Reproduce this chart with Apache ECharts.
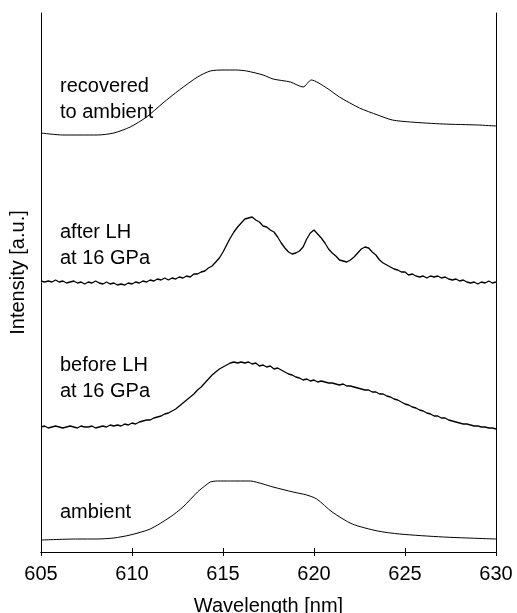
<!DOCTYPE html>
<html>
<head>
<meta charset="utf-8">
<script src="https://cdn.jsdelivr.net/npm/echarts@6/dist/echarts.min.js"></script>
<style>
  html, body { margin: 0; padding: 0; background: #fff; }
  #chart { width: 517px; height: 613px; }
</style>
</head>
<body>
<div id="chart"></div>
<script>
// Photoluminescence spectra, offset vertically (arbitrary units)
const wavelengthTicks = [605, 610, 615, 620, 625, 630];

// Smooth spectra: [wavelength nm, intensity a.u.]
const recovered = [
  [605.0, 419], [606.2, 417], [607.2, 417], [608.1, 417], [609.0, 419],
  [609.9, 425], [610.8, 435], [611.7, 449], [612.6, 462], [613.6, 475],
  [614.3, 481], [615.0, 482], [615.7, 482], [616.3, 481], [617.2, 477],
  [617.75, 473], [618.7, 470], [619.4, 465], [619.85, 472], [620.7, 464],
  [621.4, 455], [622.5, 444], [623.5, 437], [624.3, 432], [625.3, 430],
  [627.1, 428], [629.0, 427], [630.0, 426]
];

const ambient = [
  [605.05, 12], [607.0, 13], [608.1, 13], [609.0, 14], [609.9, 17],
  [611.0, 23], [612.1, 35], [612.8, 45], [613.6, 60], [614.0, 66],
  [614.3, 70], [614.7, 71], [615.4, 71], [616.5, 71], [617.2, 68],
  [617.75, 65], [618.85, 60], [619.6, 57], [620.15, 53], [621.0, 40],
  [622.1, 28], [623.5, 21], [624.7, 18], [627.1, 15], [630.0, 13]
];

// Noisy spectra sampled every 0.2 nm from 605.0 to 630.0 nm
const noisyStart = 605.0;
const noisyStep = 0.2;
const afterLHValues = [
  271, 270, 271, 270, 272, 270, 271, 269, 270, 271,
  269, 270, 268, 270, 269, 271, 269, 268, 270, 268,
  269, 267, 268, 267, 269, 268, 270, 269, 271, 270,
  272, 271, 273, 272, 274, 272, 274, 273, 275, 274,
  276, 275, 278, 278, 280, 281, 284, 286, 290, 294,
  300, 307, 314, 320, 325, 329, 333, 334, 335, 332,
  330, 326, 325, 322, 320, 315, 309, 304, 300, 298,
  299, 301, 305, 313, 319, 322, 318, 314, 309, 303,
  299, 296, 292, 291, 290, 292, 295, 299, 303, 305,
  304, 300, 297, 292, 289, 287, 285, 283, 282, 280,
  280, 277, 278, 276, 275, 276, 274, 276, 275, 276,
  274, 275, 273, 272, 273, 271, 272, 270, 269, 270,
  268, 270, 269, 271, 269, 270
];
const beforeLHValues = [
  125, 126, 124, 125, 126, 125, 124, 125, 126, 125,
  124, 126, 125, 125, 126, 124, 125, 126, 125, 127,
  126, 127, 126, 128, 127, 129, 128, 130, 131, 132,
  132, 134, 135, 136, 138, 139, 141, 143, 146, 149,
  152, 155, 158, 162, 165, 169, 173, 177, 180, 183,
  185, 187, 189, 190, 189, 190, 189, 190, 188, 189,
  186, 187, 185, 186, 183, 184, 182, 180, 178, 177,
  175, 174, 172, 173, 171, 172, 170, 171, 170, 169,
  169, 168, 167, 168, 166, 166, 165, 164, 163, 162,
  162, 160, 160, 158, 158, 156, 155, 153, 152, 150,
  148, 147, 145, 144, 142, 141, 139, 138, 136, 136,
  134, 134, 132, 131, 130, 129, 128, 128, 127, 126,
  126, 125, 125, 124, 124, 123
];

const spectrumLabels = [
  { lines: ['recovered', 'to ambient'], y: 87 },
  { lines: ['after LH', 'at 16 GPa'], y: 233 },
  { lines: ['before LH', 'at 16 GPa'], y: 366 },
  { lines: ['ambient'], y: 513 }
];

const sampled = vals => vals.map((v, i) => [+(noisyStart + i * noisyStep).toFixed(1), v]);

const FONT = 'Liberation Sans, Arial, Helvetica, sans-serif';
const FONT_SIZE = 20;
const chart = echarts.init(document.getElementById('chart'), null, { renderer: 'canvas' });

const axisLineStyle = { show: true, lineStyle: { color: '#000', width: 1 } };
const lineSeries = (name, data, smooth, width) => ({
  name, type: 'line', data, showSymbol: false, smooth,
  lineStyle: { color: '#000', width }, silent: true
});

const labelGraphics = [];
spectrumLabels.forEach(l => {
  l.lines.forEach((t, k) => {
    labelGraphics.push({
      type: 'text', left: 60, top: l.y + k * 26 - 11,
      style: { text: t, fill: '#000', font: FONT_SIZE + 'px ' + FONT }
    });
  });
});

chart.setOption({
  animation: false,
  backgroundColor: '#fff',
  grid: { left: 41, right: 21, top: 13, bottom: 61, outerBoundsMode: 'none', containLabel: false },
  xAxis: [
    {
      type: 'value', min: 605, max: 630, interval: 5, position: 'bottom',
      axisLine: axisLineStyle,
      axisTick: { show: true, inside: true, length: 4, lineStyle: { color: '#000' } },
      axisLabel: {
        color: '#000', fontSize: FONT_SIZE, fontFamily: FONT, margin: 12,
        formatter: v => wavelengthTicks.includes(v) ? String(v) : ''
      },
      splitLine: { show: false },
      name: 'Wavelength [nm]', nameLocation: 'middle', nameGap: 44,
      nameTextStyle: { color: '#000', fontSize: FONT_SIZE, fontFamily: FONT }
    },
    {
      type: 'value', min: 605, max: 630, interval: 5, position: 'top',
      axisLine: axisLineStyle,
      axisTick: { show: true, inside: true, length: 4, lineStyle: { color: '#000' } },
      axisLabel: { show: false },
      splitLine: { show: false }
    }
  ],
  yAxis: [
    {
      type: 'value', min: 0, max: 539, position: 'left',
      axisLine: axisLineStyle, axisTick: { show: false }, axisLabel: { show: false },
      splitLine: { show: false },
      name: 'Intensity [a.u.]', nameLocation: 'middle', nameGap: 13,
      nameTextStyle: { color: '#000', fontSize: FONT_SIZE, fontFamily: FONT, padding: [0, 0, 0, 20] }
    },
    {
      type: 'value', min: 0, max: 539, position: 'right',
      axisLine: axisLineStyle, axisTick: { show: false }, axisLabel: { show: false },
      splitLine: { show: false }
    }
  ],
  series: [
    lineSeries('recovered to ambient', recovered, 0.25, 1),
    lineSeries('after LH at 16 GPa', sampled(afterLHValues), false, 1.3),
    lineSeries('before LH at 16 GPa', sampled(beforeLHValues), false, 1.3),
    lineSeries('ambient', ambient, 0.25, 1)
  ],
  graphic: labelGraphics
});
</script>
</body>
</html>
